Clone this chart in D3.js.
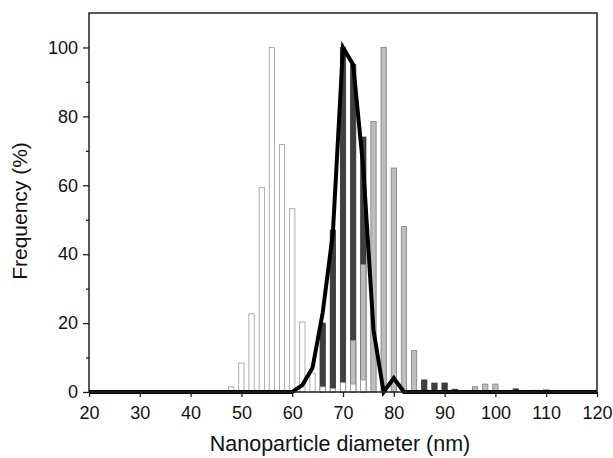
<!DOCTYPE html>
<html>
<head>
<meta charset="utf-8">
<script src="https://cdn.jsdelivr.net/npm/d3@7"></script>
<style>
  body { margin: 0; background: #fff; }
  text { font-family: "Liberation Sans", Arial, sans-serif; fill: #111; }
</style>
</head>
<body>
<div id="chart"></div>
<script>
// Donnees (bins de 2 nm)
const whiteX = [48, 50, 52, 54, 56, 58, 60, 62, 64, 66, 68, 70, 72, 74, 108, 110];
const whiteY = [1.5, 8.4, 22.7, 59.3, 100, 71.8, 53.2, 20.3, 5.5, 1.5, 1, 2.7, 2.3, 3.5, 0.5, 0.8];

const darkX = [66, 68, 70, 72, 74, 86, 88, 90, 92, 104];
const darkY = [20, 47, 100, 95, 74, 3.5, 2.6, 2.6, 0.8, 0.9];

const greyX = [72, 74, 76, 78, 80, 82, 84, 96, 98, 100];
const greyY = [15, 37, 78.5, 100, 65, 48, 12, 1.5, 2.3, 2.3];

const lineX = [20, 60, 62, 64, 66, 68, 70, 72, 74, 76, 78, 80, 82, 120];
const lineY = [0, 0, 2, 7, 23, 46, 100, 95, 65, 18, 0, 4, 0, 0];

const xTicks = [20, 30, 40, 50, 60, 70, 80, 90, 100, 110, 120];
const yTicks = [0, 20, 40, 60, 80, 100];
const yMinor = [10, 30, 50, 70, 90];

const margin = { top: 13, right: 16, bottom: 66, left: 89 },
    width = 613,
    height = 458,
    innerW = width - margin.left - margin.right,
    innerH = height - margin.top - margin.bottom,
    barW = 5.3;

const svg = d3.select("#chart")
    .append("svg")
    .attr("width", width)
    .attr("height", height);

const g = svg.append("g")
    .attr("transform", `translate(${margin.left},${margin.top})`);

const x = d3.scaleLinear().domain([20, 120]).range([0, innerW]);
const y = d3.scaleLinear().domain([0, 110]).range([innerH, 0]);

// barres : sombre derriere, gris, puis blanc devant
function drawBars(xs, ys, fill, stroke) {
  g.append("g")
    .selectAll("rect")
    .data(xs.map((v, i) => ({ x: v, y: ys[i] })))
    .join("rect")
    .attr("x", d => x(d.x) - barW / 2)
    .attr("width", barW)
    .attr("y", d => y(d.y))
    .attr("height", d => y(0) - y(d.y))
    .style("fill", fill)
    .style("stroke", stroke)
    .style("stroke-width", 0.8);
}
drawBars(darkX, darkY, "#3f3f3f", "#333");
drawBars(greyX, greyY, "#bdbdbd", "#7f7f7f");
drawBars(whiteX, whiteY, "#ffffff", "#999");

// courbe
const line = d3.line().x(d => x(d[0])).y(d => y(d[1]));
g.append("path")
  .datum(lineX.map((v, i) => [v, lineY[i]]))
  .attr("d", line)
  .style("fill", "none")
  .style("stroke", "#000")
  .style("stroke-width", 4)
  .style("stroke-linejoin", "miter");

// cadre
g.append("rect")
  .attr("width", innerW)
  .attr("height", innerH)
  .style("fill", "none")
  .style("stroke", "#222")
  .style("stroke-width", 1.5);

// axes
const xAxis = g.append("g")
  .attr("transform", `translate(0,${innerH})`)
  .call(d3.axisBottom(x).tickValues(xTicks).tickSize(5).tickPadding(9));
const yAxis = g.append("g")
  .call(d3.axisLeft(y).tickValues(yTicks).tickSize(6).tickPadding(5));
g.append("g")
  .call(d3.axisLeft(y).tickValues(yMinor).tickSize(3).tickFormat(""));

g.selectAll(".domain").remove();
g.selectAll(".tick line").style("stroke", "#222").style("stroke-width", 1.3);
xAxis.selectAll("text").style("font-size", "18px").style("fill", "#111");
yAxis.selectAll("text").style("font-size", "18px").style("fill", "#111");

// titres des axes
svg.append("text")
  .attr("x", margin.left + innerW / 2 - 3)
  .attr("y", 451)
  .attr("text-anchor", "middle")
  .style("font-size", "21.5px")
  .text("Nanoparticle diameter (nm)");

svg.append("text")
  .attr("transform", "translate(27,211) rotate(-90)")
  .attr("text-anchor", "middle")
  .style("font-size", "21px")
  .text("Frequency (%)");
</script>
</body>
</html>
